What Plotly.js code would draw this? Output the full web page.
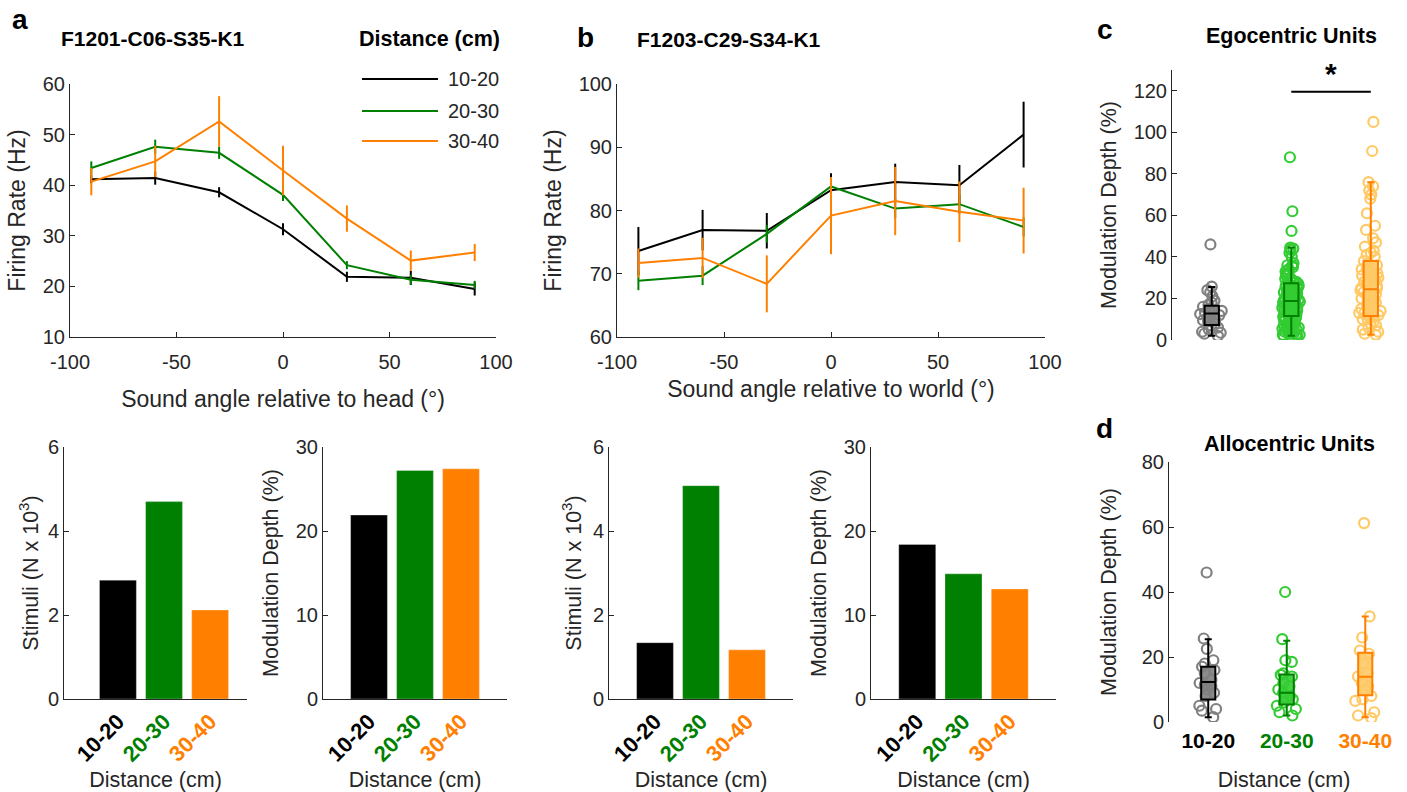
<!DOCTYPE html>
<html>
<head>
<meta charset="utf-8">
<script src="https://cdn.plot.ly/plotly-3.0.1.min.js"></script>
<style>html,body{margin:0;padding:0;background:#fff;}#chart{width:1407px;height:792px;}</style>
</head>
<body>
<div id="chart"></div>
<script>
// ---------------- DATA ----------------
const angles = [-90, -60, -30, 0, 30, 60, 90];
const angleTicks = [-100, -50, 0, 50, 100];
const angleTickText = ['-100', '-50', '0', '50', '100'];
const distLabels = ['10-20', '20-30', '30-40'];

// Panel a (head-centred example unit)
const aMean1020 = [41.2, 41.4, 38.6, 31.3, 21.9, 21.7, 19.5];
const aErr1020  = [0.8, 1.3, 1.0, 1.2, 1.0, 1.4, 1.3];
const aMean2030 = [43.4, 47.6, 46.4, 38.1, 24.2, 21.3, 20.3];
const aErr2030  = [1.3, 1.4, 1.2, 1.2, 0.8, 1.0, 0.8];
const aMean3040 = [40.7, 44.7, 52.6, 42.9, 33.4, 25.1, 26.7];
const aErr3040  = [2.7, 3.1, 5.0, 4.9, 2.6, 2.0, 1.7];

// Panel b (world-centred example unit)
const bMean1020 = [73.6, 76.9, 76.8, 83.2, 84.5, 84.0, 92.0];
const bErr1020  = [3.8, 3.2, 2.8, 2.7, 2.9, 3.2, 5.2];
const bMean2030 = [68.9, 69.7, 76.3, 83.8, 80.3, 81.0, 77.4];
const bErr2030  = [1.5, 1.5, 1.4, 1.5, 1.5, 1.5, 1.5];
const bMean3040 = [71.7, 72.5, 68.4, 79.2, 81.5, 79.8, 78.4];
const bErr3040  = [2.3, 3.2, 4.5, 6.1, 5.4, 4.8, 5.2];

// Bar panels
const aStimuli  = [2.83, 4.70, 2.12];
const aModDepth = [21.9, 27.2, 27.4];
const bStimuli  = [1.34, 5.08, 1.17];
const bModDepth = [18.4, 14.9, 13.1];

// Panel c: egocentric units, modulation depth (%)
const egoPts1020 = [46, 25.7, 24, 23, 21, 19, 18, 17, 16, 15, 14, 13, 12.5, 12, 11, 10, 9.5, 9, 8, 7, 6, 5, 4, 3.5, 3, 2];
const egoPts2030 = [88, 62, 52.5, 44.5, 44, 43.5, 42, 40, 37, 36, 36, 35, 34, 33, 32, 31.5, 31, 30, 29.5, 29,
                    28.5, 28, 27.5, 27, 26.5, 26, 25.5, 25, 24.5, 24, 23.5, 23, 22.5, 22, 21.5, 21, 20.5, 20, 19.5, 19,
                    19, 18.5, 18, 18, 17.5, 17, 16.5, 16, 16, 15.5, 15, 14.5, 14, 14, 13.5, 13, 12.5, 12, 12, 11.5,
                    11, 10.5, 10, 10, 9.5, 9, 8.5, 8, 8, 7.5, 7, 6.5, 6, 6, 5.5, 5, 4.5, 4, 4, 3.5,
                    3, 3, 2.5, 2.5, 2, 2, 21, 17, 15, 13, 11, 9, 7, 5, 3, 24, 20, 16];
const egoPts3040 = [105, 91, 76, 74, 72, 70, 68, 61, 55, 53, 49, 47, 45, 43, 42, 41, 40, 38, 37, 36,
                    35, 34, 33, 32, 31, 30, 29, 28, 27, 26, 25, 24, 23, 22, 21, 20, 19, 18, 17, 16,
                    15, 14, 13, 12, 12, 11, 10, 9, 8, 7, 6, 5, 4, 3, 2.5, 30, 25, 20, 15, 10, 34, 27, 22, 18, 13];
const egoQ1  = [7.2, 11.5, 11.5];
const egoMed = [12.8, 18.8, 24.4];
const egoQ3  = [16.5, 27.3, 38.0];
const egoLo  = [2.0, 2.0, 2.5];
const egoHi  = [25.5, 44.5, 76.0];

// Panel d: allocentric units, modulation depth (%)
const alloPts1020 = [46, 25.7, 22.5, 19, 18, 17, 16, 15, 13, 12, 11.5, 11, 10, 9, 8, 5, 4, 3.5, 1.5];
const alloPts2030 = [40, 25.5, 19, 18.5, 15, 14.5, 14, 12, 11, 10, 9, 8, 7.5, 7, 6, 5, 4, 3, 2];
const alloPts3040 = [61.2, 32.5, 26, 22, 21, 18, 15, 14, 12, 11, 10, 8, 7, 6.5, 3, 2, 1.2];
const alloQ1  = [6.9, 5.4, 8.2];
const alloMed = [12.3, 9.0, 13.9];
const alloQ3  = [17.0, 14.6, 21.3];
const alloLo  = [1.5, 2.0, 1.5];
const alloHi  = [25.5, 25.0, 32.5];

// ---------------- STYLE ----------------
const W = 1407, H = 792;
const fx = v => v / W;
const fy = v => 1 - v / H;
const FONT = 'Arial, "Liberation Sans", Helvetica, sans-serif';
const AX = '#262626';
const lineCols = ['#000000', '#008000', '#ff8000'];
const ptCols   = ['#808080', '#33cc33', '#ffc966'];
const boxFill  = ['rgba(128,128,128,0.9)', 'rgba(51,204,51,0.9)', 'rgba(255,201,102,0.9)'];
const boxLine  = ['#000000', '#008000', '#ff8000'];

function ax(extra) {
  return Object.assign({
    showline: true, linecolor: AX, linewidth: 1,
    ticks: 'inside', ticklen: 5, tickcolor: AX, tickwidth: 1,
    tickfont: {size: 20, color: AX, family: FONT},
    showgrid: false, zeroline: false, fixedrange: true
  }, extra);
}
function colTicks() {
  return distLabels.map((d, i) => '<span style="color:' + lineCols[i] + '"><b>' + d + '</b></span>');
}

const traces = [];
// line panels
const lineSets = [
  {xa: 'x', ya: 'y', means: [aMean1020, aMean2030, aMean3040], errs: [aErr1020, aErr2030, aErr3040]},
  {xa: 'x2', ya: 'y2', means: [bMean1020, bMean2030, bMean3040], errs: [bErr1020, bErr2030, bErr3040]}
];
lineSets.forEach(s => {
  s.means.forEach((m, i) => {
    traces.push({
      type: 'scatter', mode: 'lines', x: angles, y: m, xaxis: s.xa, yaxis: s.ya,
      line: {color: lineCols[i], width: 2},
      error_y: {type: 'data', array: s.errs[i], visible: true, thickness: 2, width: 0, color: lineCols[i]},
      showlegend: false, hoverinfo: 'skip'
    });
  });
});
// bar panels
[[aStimuli, 'x3', 'y3'], [aModDepth, 'x4', 'y4'], [bStimuli, 'x5', 'y5'], [bModDepth, 'x6', 'y6']].forEach(b => {
  traces.push({
    type: 'bar', x: distLabels, y: b[0], xaxis: b[1], yaxis: b[2], width: 0.8,
    marker: {color: lineCols, line: {color: 'rgba(255,255,255,0.6)', width: 0.5}},
    showlegend: false, hoverinfo: 'skip'
  });
});
// box panels
const boxSets = [
  {xa: 'x7', ya: 'y7', pts: [egoPts1020, egoPts2030, egoPts3040], q1: egoQ1, med: egoMed, q3: egoQ3, lo: egoLo, hi: egoHi},
  {xa: 'x8', ya: 'y8', pts: [alloPts1020, alloPts2030, alloPts3040], q1: alloQ1, med: alloMed, q3: alloQ3, lo: alloLo, hi: alloHi}
];
boxSets.forEach(s => {
  s.pts.forEach((p, i) => {
    traces.push({
      type: 'box', y: p, x: p.map(() => distLabels[i]), xaxis: s.xa, yaxis: s.ya,
      boxpoints: 'all', jitter: 1, pointpos: 0, width: 0.3,
      fillcolor: 'rgba(0,0,0,0)', line: {color: 'rgba(0,0,0,0)', width: 0},
      marker: {symbol: 'circle-open', size: 10, color: ptCols[i], line: {width: 2.2, color: ptCols[i]}},
      showlegend: false, hoverinfo: 'skip'
    });
  });
  distLabels.forEach((d, i) => {
    traces.push({
      type: 'box', x: [d], q1: [s.q1[i]], median: [s.med[i]], q3: [s.q3[i]],
      lowerfence: [s.lo[i]], upperfence: [s.hi[i]], xaxis: s.xa, yaxis: s.ya,
      boxpoints: false, width: 0.18, whiskerwidth: 0.5,
      fillcolor: boxFill[i], line: {color: boxLine[i], width: 2},
      showlegend: false, hoverinfo: 'skip'
    });
  });
});

const topTitle = {size: 23, color: AX, family: FONT};
const subTitle = {size: 21.5, color: AX, family: FONT};
const rotTick = {size: 22, family: FONT};
const layout = {
  width: W, height: H,
  margin: {l: 0, r: 0, t: 0, b: 0},
  paper_bgcolor: '#fff', plot_bgcolor: 'rgba(0,0,0,0)',
  font: {family: FONT, color: AX},
  showlegend: false, boxmode: 'overlay',
  xaxis: ax({domain: [fx(70), fx(496)], anchor: 'y', range: [-100, 100], tickvals: angleTicks, ticktext: angleTickText,
             ticklabelstandoff: 7, title: {text: 'Sound angle relative to head (°)', font: topTitle, standoff: 18}}),
  yaxis: ax({domain: [fy(337), fy(84)], anchor: 'x', range: [10, 60], tickvals: [10, 20, 30, 40, 50, 60],
             title: {text: 'Firing Rate (Hz)', font: topTitle, standoff: 10}}),
  xaxis2: ax({domain: [fx(617), fx(1045)], anchor: 'y2', range: [-100, 100], tickvals: angleTicks, ticktext: angleTickText,
              ticklabelstandoff: 7, title: {text: 'Sound angle relative to world (°)', font: topTitle, standoff: 8}}),
  yaxis2: ax({domain: [fy(337), fy(84)], anchor: 'x2', range: [60, 100], tickvals: [60, 70, 80, 90, 100],
              title: {text: 'Firing Rate (Hz)', font: topTitle, standoff: 10}}),
  xaxis3: ax({domain: [fx(64), fx(247)], anchor: 'y3', type: 'category', range: [-1.17, 2.8], ticks: '',
              tickvals: distLabels, ticktext: colTicks(), tickangle: -45, tickfont: rotTick,
              title: {text: 'Distance (cm)', font: subTitle, standoff: 7}}),
  yaxis3: ax({domain: [fy(699), fy(447)], anchor: 'x3', range: [0, 6], tickvals: [0, 2, 4, 6],
              title: {text: 'Stimuli (N x 10<sup>3</sup>)', font: subTitle, standoff: 3}}),
  xaxis4: ax({domain: [fx(323), fx(507)], anchor: 'y4', type: 'category', range: [-1, 3], ticks: '',
              tickvals: distLabels, ticktext: colTicks(), tickangle: -45, tickfont: rotTick,
              title: {text: 'Distance (cm)', font: subTitle, standoff: 7}}),
  yaxis4: ax({domain: [fy(699), fy(447)], anchor: 'x4', range: [0, 30], tickvals: [0, 10, 20, 30],
              title: {text: 'Modulation Depth (%)', font: subTitle, standoff: 11}}),
  xaxis5: ax({domain: [fx(609), fx(793)], anchor: 'y5', type: 'category', range: [-1, 3], ticks: '',
              tickvals: distLabels, ticktext: colTicks(), tickangle: -45, tickfont: rotTick,
              title: {text: 'Distance (cm)', font: subTitle, standoff: 7}}),
  yaxis5: ax({domain: [fy(699), fy(447)], anchor: 'x5', range: [0, 6], tickvals: [0, 2, 4, 6],
              title: {text: 'Stimuli (N x 10<sup>3</sup>)', font: subTitle, standoff: 5}}),
  xaxis6: ax({domain: [fx(871), fx(1056)], anchor: 'y6', type: 'category', range: [-1, 3], ticks: '',
              tickvals: distLabels, ticktext: colTicks(), tickangle: -45, tickfont: rotTick,
              title: {text: 'Distance (cm)', font: subTitle, standoff: 7}}),
  yaxis6: ax({domain: [fy(699), fy(447)], anchor: 'x6', range: [0, 30], tickvals: [0, 10, 20, 30],
              title: {text: 'Modulation Depth (%)', font: subTitle, standoff: 11}}),
  xaxis7: ax({domain: [fx(1172), fx(1405)], anchor: 'y7', type: 'category', range: [-0.5, 2.43],
              showline: false, ticks: '', showticklabels: false}),
  yaxis7: ax({domain: [fy(340), fy(70)], anchor: 'x7', range: [0, 130], tickvals: [0, 20, 40, 60, 80, 100, 120],
              title: {text: 'Modulation Depth (%)', font: subTitle, standoff: 11}}),
  xaxis8: ax({domain: [fx(1169), fx(1399)], anchor: 'y8', type: 'category', range: [-0.5, 2.43],
              showline: false, ticks: '', tickvals: distLabels, ticktext: colTicks(), tickfont: {size: 21, family: FONT},
              ticklabelstandoff: 4, title: {text: 'Distance (cm)', font: subTitle, standoff: 20}}),
  yaxis8: ax({domain: [fy(722), fy(462)], anchor: 'x8', range: [0, 80], tickvals: [0, 20, 40, 60, 80],
              title: {text: 'Modulation Depth (%)', font: subTitle, standoff: 19}}),
  shapes: [],
  annotations: []
};

// Legend for panel a (drawn in paper space)
const legY = [79, 111, 141];
distLabels.forEach((d, i) => {
  layout.shapes.push({type: 'line', xref: 'paper', yref: 'paper', x0: fx(362), x1: fx(438), y0: fy(legY[i]), y1: fy(legY[i]),
                      line: {color: lineCols[i], width: 2}});
  layout.annotations.push({xref: 'paper', yref: 'paper', x: fx(446), y: fy(legY[i]), xanchor: 'left', yanchor: 'middle',
                           text: d, showarrow: false, font: {size: 20, color: AX, family: FONT}});
});
// significance bar in panel c
layout.shapes.push({type: 'line', xref: 'x7', yref: 'y7', x0: 1, x1: 2, y0: 119.5, y1: 119.5, line: {color: '#000', width: 2}});
layout.annotations.push({xref: 'x7', yref: 'y7', x: 1.5, y: 128.5, text: '<b>*</b>', showarrow: false,
                         font: {size: 30, color: '#000', family: FONT}, yanchor: 'middle'});

function label(text, x, y, size, anchor) {
  layout.annotations.push({xref: 'paper', yref: 'paper', x: fx(x), y: fy(y), text: text, showarrow: false,
                           xanchor: anchor || 'left', yanchor: 'middle', font: {size: size, color: '#000', family: FONT}});
}
label('<b>a</b>', 20, 19, 28, 'center');
label('<b>b</b>', 585, 37, 28, 'center');
label('<b>c</b>', 1105, 29, 28, 'center');
label('<b>d</b>', 1104, 428, 28, 'center');
label('<b>F1201-C06-S35-K1</b>', 59, 38, 21);
label('<b>Distance (cm)</b>', 357, 39, 21.5);
label('<b>F1203-C29-S34-K1</b>', 635, 40, 21);
label('<b>Egocentric Units</b>', 1291, 36, 21.5, 'center');
label('<b>Allocentric Units</b>', 1289, 444, 21.5, 'center');

Plotly.newPlot('chart', traces, layout, {staticPlot: true, displayModeBar: false});
</script>
</body>
</html>
